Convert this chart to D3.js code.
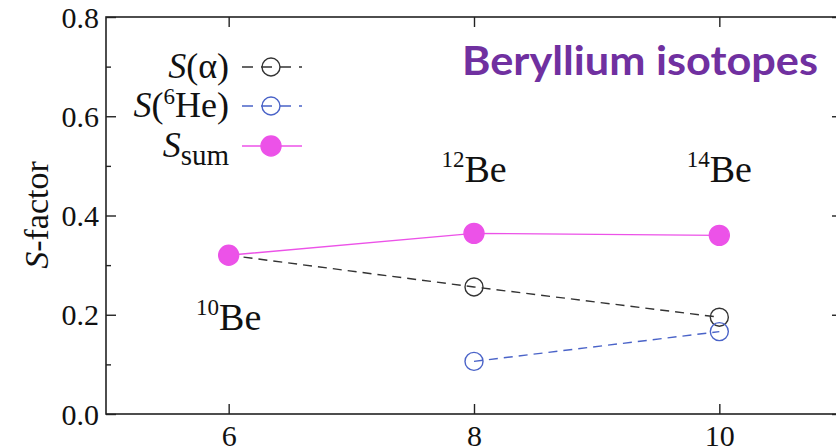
<!DOCTYPE html>
<html><head><meta charset="utf-8">
<script src="https://cdn.jsdelivr.net/npm/d3@7"></script>
<style>body{margin:0;background:#fff}svg{display:block}</style>
</head><body>
<svg id="c" width="836" height="448"></svg>
<script>
// ---- data ----
const neutronNumber = [6, 8, 10];
const sAlpha = [0.320, 0.256, 0.195];
const sHe6 = [null, 0.106, 0.166];
const sSum = [0.320, 0.364, 0.360];
const isotopeLabels = [{n: 6, mass: "10", y: 0.169}, {n: 8, mass: "12", y: 0.468}, {n: 10, mass: "14", y: 0.468}];
const xTicks = [6, 8, 10];
const yMajor = [0, 0.2, 0.4, 0.6, 0.8];
const yMinor = [0.1, 0.3, 0.5, 0.7];
const title = "Beryllium isotopes";

const svg = d3.select("#c");
const L = 106, R = 842, T = 17, B = 414;
const x = d3.scaleLinear().domain([5, 11]).range([L, R]);
const y = d3.scaleLinear().domain([0, 0.8]).range([B, T]);
const serif = "'Liberation Serif', 'Times New Roman', serif";
const axCol = "#222";

// frame
svg.append("rect").attr("x", L).attr("y", T).attr("width", R - L).attr("height", B - T)
  .attr("fill", "none").attr("stroke", axCol).attr("stroke-width", 1.6);

// axes (ticks inward)
const yl = svg.append("g").attr("transform", `translate(${L},0)`)
  .call(d3.axisLeft(y).tickValues(yMajor).tickSize(-10).tickPadding(7).tickFormat(d3.format(".1f")));
const yr = svg.append("g").attr("transform", `translate(${R},0)`)
  .call(d3.axisRight(y).tickValues(yMajor).tickSize(-10).tickFormat(""));
const ylm = svg.append("g").attr("transform", `translate(${L},0)`)
  .call(d3.axisLeft(y).tickValues(yMinor).tickSize(-5).tickFormat(""));
const yrm = svg.append("g").attr("transform", `translate(${R},0)`)
  .call(d3.axisRight(y).tickValues(yMinor).tickSize(-5).tickFormat(""));
const xb = svg.append("g").attr("transform", `translate(0,${B})`)
  .call(d3.axisBottom(x).tickValues(xTicks).tickSize(-10).tickPadding(11).tickFormat(d3.format("d")));
const xt = svg.append("g").attr("transform", `translate(0,${T})`)
  .call(d3.axisTop(x).tickValues(xTicks).tickSize(-10).tickFormat(""));
[yl, yr, ylm, yrm, xb, xt].forEach(g => {
  g.select(".domain").remove();
  g.selectAll("line").attr("stroke", axCol).attr("stroke-width", 1.4);
  g.selectAll("text").attr("font-family", serif).attr("font-size", 30).attr("fill", "#111");
});
yl.selectAll("text").attr("dy", "0.34em");

// y label
svg.append("text").attr("transform", "translate(48,215) rotate(-90)")
  .attr("text-anchor", "middle").attr("font-family", serif).attr("font-size", 34).attr("fill", "#111")
  .call(t => { t.append("tspan").attr("font-style", "italic").text("S"); t.append("tspan").text("-factor"); });

// series
const magenta = "#ec52e8", blue = "#4a63c8", black = "#333";
function series(vals, color, dash, filled, r) {
  const pts = neutronNumber.map((n, i) => ({n, v: vals[i]})).filter(d => d.v != null);
  svg.append("path").datum(pts)
    .attr("d", d3.line().x(d => x(d.n)).y(d => y(d.v)))
    .attr("fill", "none").attr("stroke", color).attr("stroke-width", 1.4)
    .attr("stroke-dasharray", dash);
  svg.selectAll(null).data(pts).enter().append("circle")
    .attr("cx", d => x(d.n)).attr("cy", d => y(d.v)).attr("r", r)
    .attr("fill", filled ? color : "none").attr("stroke", color).attr("stroke-width", 1.4);
}
series(sAlpha, black, "9,6", false, 9);
series(sHe6, blue, "9,6", false, 9);
series(sSum, magenta, null, true, 10);

// isotope labels
isotopeLabels.forEach(d => {
  const t = svg.append("text").attr("font-family", serif).attr("fill", "#111")
    .attr("text-anchor", "middle").attr("x", x(d.n)).attr("y", y(d.y));
  t.append("tspan").attr("font-size", 23).attr("dy", -15).text(d.mass);
  t.append("tspan").attr("font-size", 38).attr("dy", 15).text("Be");
});

// legend
const legendRows = [
  {y: 67, color: black, dash: "9,6", filled: false, r: 9, label: "a"},
  {y: 106, color: blue, dash: "9,6", filled: false, r: 9, label: "he"},
  {y: 146, color: magenta, dash: null, filled: true, r: 10, label: "sum"}
];
legendRows.forEach(row => {
  svg.append("line").attr("x1", 242).attr("x2", 302).attr("y1", row.y).attr("y2", row.y)
    .attr("stroke", row.color).attr("stroke-width", 1.4).attr("stroke-dasharray", row.dash ? "11,8" : null);
  svg.append("circle").attr("cx", 271).attr("cy", row.y).attr("r", row.r)
    .attr("fill", row.filled ? row.color : "none").attr("stroke", row.color).attr("stroke-width", 1.4);
  const t = svg.append("text").attr("font-family", serif).attr("fill", "#111").attr("font-size", 36)
    .attr("text-anchor", "end").attr("x", 229).attr("y", row.y + 11);
  t.append("tspan").attr("font-style", "italic").text("S");
  if (row.label === "a") t.append("tspan").text("(α)");
  if (row.label === "he") {
    t.append("tspan").text("(");
    t.append("tspan").attr("font-size", 23).attr("dy", -13).text("6");
    t.append("tspan").attr("dy", 13).text("He)");
  }
  if (row.label === "sum") t.append("tspan").attr("font-size", 29).attr("dy", 8).text("sum");
});

// title annotation
svg.append("text").attr("x", 462).attr("y", 75).attr("font-family", "Lato, 'Open Sans', sans-serif")
  .attr("font-weight", "bold").attr("font-size", 40).attr("fill", "#7030a0")
  .attr("textLength", 356).attr("lengthAdjust", "spacingAndGlyphs").text(title);
</script>
</body></html>
